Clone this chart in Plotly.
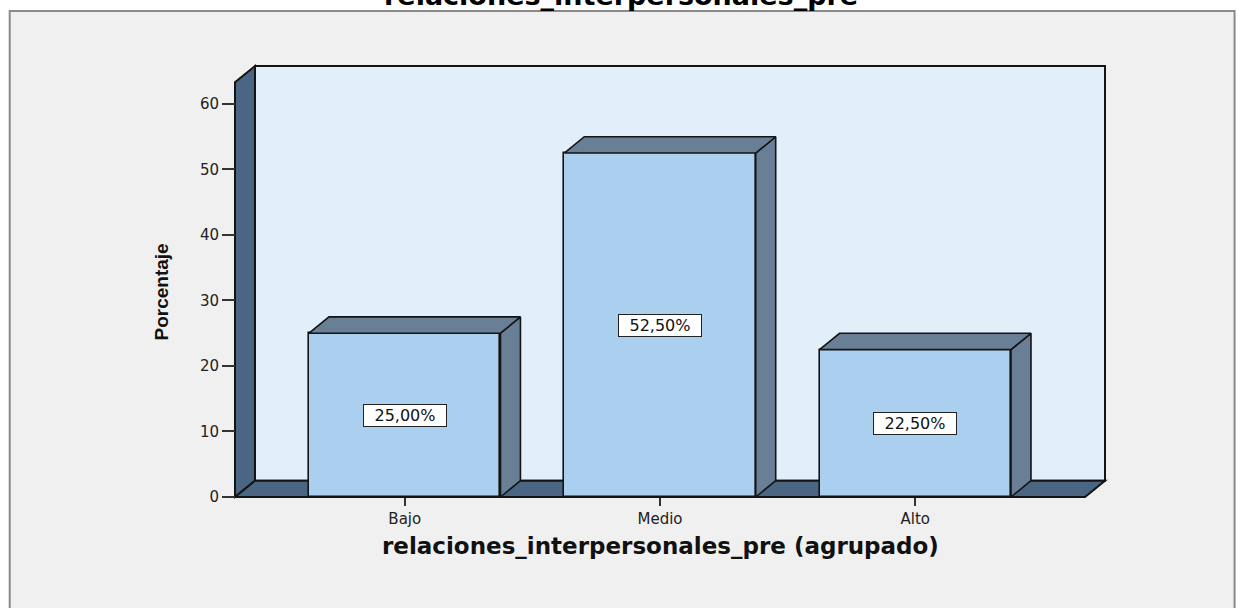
import plotly.graph_objects as go

# ---------------- data ----------------
categories = ["Bajo", "Medio", "Alto"]
percentages = [25.0, 52.5, 22.5]
y_ticks = [0, 10, 20, 30, 40, 50, 60]
y_axis_max = 63.3

chart_title = "relaciones_interpersonales_pre"
x_title = "relaciones_interpersonales_pre (agrupado)"
y_title = "Porcentaje"

# ---------------- styling / geometry ----------------
W, H = 1241, 608
PAGE_OFF = 0          # body margin removed by post script
PX_PER_CAT = 255.5
PX_PER_UNIT = 6.55
DEPTH_X_PX, DEPTH_Y_PX = 20, 16.3
PAD_PX = 5
OUTER_CAT = 0.665
BAR_WIDTH = 0.75
FRONT_LEFT_PX = 234.5 - PAGE_OFF
ZERO_PX = 497 - PAGE_OFF

EDGE = "#141414"
BACK = "#e2eefa"
WALL = "#4a6682"
FRONT = "#abcfee"
SIDE = "#697f95"
BG = "#f0f0f0"

n = len(categories)
dxu = DEPTH_X_PX / PX_PER_CAT
dyu = DEPTH_Y_PX / PX_PER_UNIT
padx = PAD_PX / PX_PER_CAT
pady = PAD_PX / PX_PER_UNIT

x_fl = -OUTER_CAT
x_fr = (n - 1) + OUTER_CAT
x_range = [x_fl - padx, x_fr + dxu + padx]
y_range = [-pady, y_axis_max + dyu + pady]

plot_w = (x_range[1] - x_range[0]) * PX_PER_CAT
plot_h = (y_range[1] - y_range[0]) * PX_PER_UNIT
m_l = FRONT_LEFT_PX - PAD_PX
m_b = H - (ZERO_PX + PAD_PX)
m_r = W - m_l - plot_w
m_t = H - m_b - plot_h


def paper_x(px):
    # px: page pixel
    return (px - PAGE_OFF - m_l) / plot_w


def paper_y(py):
    return (H - m_b - (py - PAGE_OFF)) / plot_h


def path(xs, ys):
    pts = " L ".join(f"{x},{y}" for x, y in zip(xs, ys))
    return "M " + pts + " Z"


fig = go.Figure()

shapes = []
# outer frame
shapes.append(dict(type="rect", xref="paper", yref="paper",
                   x0=paper_x(9), x1=paper_x(1235), y0=paper_y(650), y1=paper_y(11),
                   fillcolor=BG, line=dict(color="#8a8a8a", width=2), layer="below"))
# back wall
shapes.append(dict(type="path", xref="x", yref="y", layer="below",
                   path=path([x_fl + dxu, x_fr + dxu, x_fr + dxu, x_fl + dxu],
                             [dyu, dyu, y_axis_max + dyu, y_axis_max + dyu]),
                   fillcolor=BACK, line=dict(color=EDGE, width=2)))
# left wall
shapes.append(dict(type="path", xref="x", yref="y", layer="below",
                   path=path([x_fl, x_fl + dxu, x_fl + dxu, x_fl],
                             [0, dyu, y_axis_max + dyu, y_axis_max]),
                   fillcolor=WALL, line=dict(color=EDGE, width=2)))
# floor
shapes.append(dict(type="path", xref="x", yref="y", layer="below",
                   path=path([x_fl, x_fr, x_fr + dxu, x_fl + dxu],
                             [0, 0, dyu, dyu]),
                   fillcolor=WALL, line=dict(color=EDGE, width=2)))

# front faces of the bars
xs_idx = list(range(n))
fig.add_trace(go.Bar(x=xs_idx, y=percentages, width=BAR_WIDTH,
                     marker=dict(color=FRONT, line=dict(color=EDGE, width=1.6)),
                     hoverinfo="skip", showlegend=False))

# side and top faces
for i, v in enumerate(percentages):
    l = i - BAR_WIDTH / 2
    r = i + BAR_WIDTH / 2
    side_x = [r, r + dxu, r + dxu, r, r]
    side_y = [0, dyu, v + dyu, v, 0]
    top_x = [l, r, r + dxu, l + dxu, l]
    top_y = [v, v, v + dyu, v + dyu, v]
    for px_, py_ in ((side_x, side_y), (top_x, top_y)):
        fig.add_trace(go.Scatter(x=px_, y=py_, mode="lines", fill="toself",
                                 fillcolor=SIDE, line=dict(color=EDGE, width=1.6),
                                 hoverinfo="skip", showlegend=False))

annotations = []
for i, v in enumerate(percentages):
    annotations.append(dict(
        x=i, y=v / 2, xref="x", yref="y", showarrow=False,
        text=f"{v:.2f}".replace(".", ",") + "%",
        font=dict(family="DejaVu Sans", size=16, color="#111"),
        bgcolor="white", bordercolor="#222", borderwidth=1, borderpad=1,
        width=80, height=19))

annotations.append(dict(
    x=paper_x(621), y=paper_y(-4), xref="paper", yref="paper",
    xanchor="center", yanchor="middle", showarrow=False,
    text=f"<b>{chart_title}</b>",
    font=dict(family="DejaVu Sans", size=27, color="#000")))

annotations.append(dict(
    x=(n - 1) / 2, y=paper_y(546), xref="x", yref="paper",
    xanchor="center", yanchor="middle", showarrow=False,
    text=f"<b>{x_title}</b>",
    font=dict(family="DejaVu Sans", size=23, color="#111")))

annotations.append(dict(
    x=paper_x(161), y=paper_y(292), xref="paper", yref="paper",
    xanchor="center", yanchor="middle", showarrow=False, textangle=-90,
    text=f"<b>{y_title}</b>",
    font=dict(family="Liberation Sans", size=19, color="#111")))

fig.update_layout(
    width=W, height=H, autosize=False,
    margin=dict(l=m_l, r=m_r, t=m_t, b=m_b, pad=0),
    paper_bgcolor="white", plot_bgcolor="rgba(0,0,0,0)",
    hovermode=False, showlegend=False, bargap=0,
    shapes=shapes, annotations=annotations,
    xaxis=dict(range=x_range, tickvals=xs_idx, ticktext=categories,
               ticks="outside", ticklen=8, tickwidth=1.5, tickcolor="#333",
               showgrid=False, zeroline=False, showline=False,
               anchor="free", position=PAD_PX / plot_h, fixedrange=True,
               tickfont=dict(family="DejaVu Sans", size=15, color="#222")),
    yaxis=dict(range=y_range, tickvals=y_ticks,
               ticks="outside", ticklen=13, tickwidth=1.5, tickcolor="#333",
               showgrid=False, zeroline=False, showline=False,
               anchor="free", position=PAD_PX / plot_w, fixedrange=True,
               tickfont=dict(family="DejaVu Sans", size=15, color="#222")),
)

fig.write_html("out.html", config={"displayModeBar": False},
               post_script="document.body.style.margin='0';")
